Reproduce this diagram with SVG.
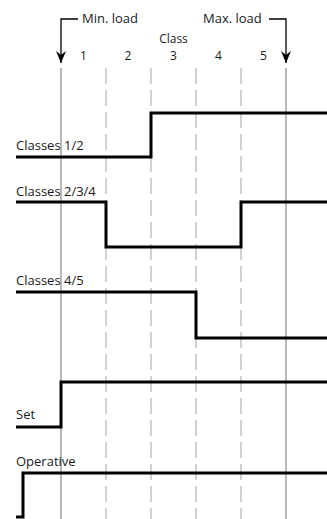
<svg xmlns="http://www.w3.org/2000/svg" width="327" height="519" viewBox="0 0 327 519">
<defs>
<style>
text{font-family:"Open Sans","Liberation Sans",sans-serif;font-size:13px;fill:#1a1a1a}
.n{text-anchor:middle;font-size:12px}
.grid{stroke:#a0a0a0;stroke-width:1.5;fill:none}
.dash{stroke:#b4b4b4;stroke-width:1.2;fill:none;stroke-dasharray:16 6}
.sig{stroke:#000;stroke-width:3;fill:none;stroke-linejoin:miter;stroke-linecap:butt}
.lead{stroke:#000;stroke-width:1.3;fill:none}
</style>
<marker id="ah" viewBox="0 0 12 10" refX="12" refY="5" markerWidth="12" markerHeight="10" markerUnits="userSpaceOnUse" orient="auto">
<path d="M0,0 L4,5 L0,10 L12,5 Z" fill="#000"/>
</marker>
</defs>
<g id="grid">
<line class="grid" x1="61" y1="68" x2="61" y2="519"/>
<line class="dash" x1="106" y1="68" x2="106" y2="519"/>
<line class="dash" x1="151" y1="68" x2="151" y2="519"/>
<line class="dash" x1="196" y1="68" x2="196" y2="519"/>
<line class="dash" x1="241" y1="68" x2="241" y2="519"/>
<line class="grid" x1="286" y1="68" x2="286" y2="519"/>
</g>
<g id="header">
<text x="82" y="23">Min. load</text>
<text x="203" y="23">Max. load</text>
<text class="n" x="173.5" y="43">Class</text>
<text class="n" x="83.5" y="59.5">1</text>
<text class="n" x="128" y="59.5">2</text>
<text class="n" x="173.5" y="59.5">3</text>
<text class="n" x="218.5" y="59.5">4</text>
<text class="n" x="263.5" y="59.5">5</text>
</g>
<g id="connectors">
<path class="lead" d="M78,19 H61 V63" marker-end="url(#ah)"/>
<path class="lead" d="M269,19 H286 V63" marker-end="url(#ah)"/>
</g>
<g id="classes12">
<text x="16" y="150">Classes 1/2</text>
<path class="sig" d="M16,157 H151 V113 H327"/>
</g>
<g id="classes234">
<text x="16" y="196">Classes 2/3/4</text>
<path class="sig" d="M16,202 H106 V247 H241 V202 H327"/>
</g>
<g id="classes45">
<text x="16" y="285">Classes 4/5</text>
<path class="sig" d="M16,292 H196 V338 H327"/>
</g>
<g id="set">
<text x="16" y="419">Set</text>
<path class="sig" d="M16,427 H61 V382 H327"/>
</g>
<g id="operative">
<text x="16" y="466">Operative</text>
<path class="sig" d="M16,517 H23 V473 H327"/>
</g>
</svg>
